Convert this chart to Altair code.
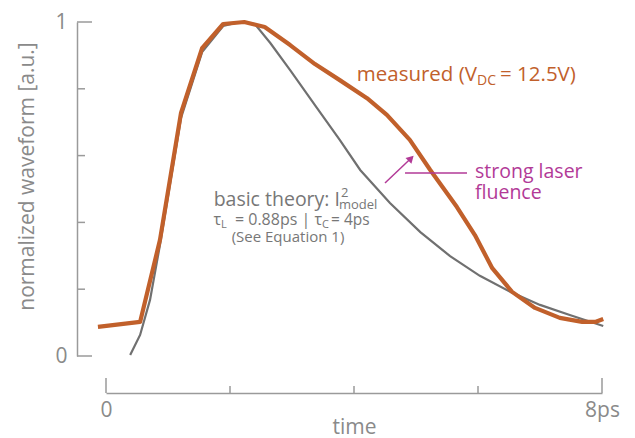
import altair as alt
import pandas as pd

# ---------------- data ----------------
meas_t = [-0.13, 0.55, 0.87, 1.21, 1.55, 1.89, 2.23, 2.56, 2.97, 3.37, 3.77, 4.21,
          4.53, 4.90, 5.23, 5.66, 5.95, 6.23, 6.55, 6.92, 7.32, 7.68, 7.89, 8.02]
meas_v = [0.087, 0.102, 0.347, 0.728, 0.922, 0.994, 1.0, 0.985, 0.931, 0.874, 0.826, 0.772,
          0.722, 0.647, 0.557, 0.446, 0.362, 0.263, 0.192, 0.144, 0.114, 0.102, 0.102, 0.111]

theo_t = [0.39, 0.55, 0.71, 0.87, 1.21, 1.55, 1.89, 2.16, 2.40, 2.65, 2.97, 3.37,
          3.77, 4.10, 4.58, 5.07, 5.55, 6.03, 6.52, 7.00, 7.48, 8.02]
theo_v = [0.003, 0.063, 0.168, 0.332, 0.713, 0.910, 0.988, 1.0, 0.994, 0.937, 0.856, 0.751,
          0.647, 0.557, 0.458, 0.371, 0.299, 0.240, 0.192, 0.153, 0.123, 0.090]

x_major = [0, 8]
x_minor = [2, 4, 6]
y_major = [0, 1]
y_minor = [0.2, 0.4, 0.6, 0.8]

x_title = "time"
y_title = "normalized waveform [a.u.]"

# annotation pieces: text, t, v
meas_main = [("measured (V", 5.984, 0.823)]
meas_sub = [("DC", 5.984, 0.811)]
meas_tail = [("= 12.5V)", 6.355, 0.823)]

laser_txt = [("strong laser", 5.952, 0.533), ("fluence", 5.952, 0.470)]
leader_t = [4.823, 5.823]
leader_v = [0.548, 0.548]
arrow_t = [4.50, 4.92]
arrow_v = [0.518, 0.592]

theory_main = [("basic theory: I", 3.774, 0.449)]
theory_sup = [("2", 3.79, 0.476)]
theory_sub = [("model", 3.758, 0.440)]
tau_right = [("τ", 1.855, 0.392), ("= 0.88ps | τ", 3.484, 0.392)]
tau_sub = [("L", 1.855, 0.383), ("C", 3.484, 0.383)]
tau_left = [("= 4ps", 3.63, 0.392)]
see_eq = [("(See Equation 1)", 2.935, 0.341)]

# ---------------- style ----------------
FONT = "Open Sans"
ORANGE = "#C1602B"
GREY_LINE = "#707070"
MAGENTA = "#B23A97"
AX = "#9a9a9a"
LAB = "#8a8a8a"
TXT = "#777777"
W, H = 496, 334

xs = alt.Scale(domain=[0, 8])
ys = alt.Scale(domain=[0, 1])

xaxis = alt.Axis(values=x_major, labelExpr="datum.value == 8 ? '8ps' : '0'", title=x_title,
                 offset=37, ticks=False, grid=False, domainColor=AX, domainWidth=1.5,
                 labelColor=LAB, labelFontSize=21, labelFont=FONT, labelPadding=6,
                 titleFont=FONT, titleFontSize=21, titleFontWeight="normal", titleColor=LAB,
                 titleX=248, titleY=40, titleBaseline="alphabetic", titleAlign="center",
                 labelFlush=False)
yaxis = alt.Axis(values=y_major, format="d", title=y_title, offset=29, ticks=False, grid=False,
                 domainColor=AX, domainWidth=1.5, labelColor=LAB, labelFontSize=21,
                 labelFont=FONT, labelPadding=10, titleFont=FONT, titleFontSize=21,
                 titleFontWeight="normal", titleColor=LAB, titleAngle=270,
                 titleX=-50, titleY=154, titleAlign="center", titleBaseline="middle")


def X(f):
    return alt.X(f, type="quantitative", scale=xs, axis=xaxis)


def Y(f):
    return alt.Y(f, type="quantitative", scale=ys, axis=yaxis)


def tdf(rows):
    return pd.DataFrame(rows, columns=["text", "t", "v"])


meas = pd.DataFrame({"t": meas_t, "v": meas_v})
theo = pd.DataFrame({"t": theo_t, "v": theo_v})

theo_line = alt.Chart(theo).mark_line(color=GREY_LINE, strokeWidth=2.2).encode(x=X("t"), y=Y("v"))
meas_line = alt.Chart(meas).mark_line(color=ORANGE, strokeWidth=4.2, strokeJoin="round").encode(x=X("t"), y=Y("v"))

ytm = alt.Chart(pd.DataFrame({"v": y_major})).mark_rule(color=AX, strokeWidth=1.5).encode(
    y=Y("v"), x=alt.value(-29), x2=alt.value(-14))
ytn = alt.Chart(pd.DataFrame({"v": y_minor})).mark_rule(color=AX, strokeWidth=1.5).encode(
    y=Y("v"), x=alt.value(-29), x2=alt.value(-21))
xtm = alt.Chart(pd.DataFrame({"t": x_major})).mark_rule(color=AX, strokeWidth=1.5).encode(
    x=X("t"), y=alt.value(371), y2=alt.value(356))
xtn = alt.Chart(pd.DataFrame({"t": x_minor})).mark_rule(color=AX, strokeWidth=1.5).encode(
    x=X("t"), y=alt.value(371), y2=alt.value(364))


def txt(rows, size, color, align):
    return alt.Chart(tdf(rows)).mark_text(font=FONT, fontSize=size, color=color, align=align,
                                          baseline="alphabetic").encode(x=X("t"), y=Y("v"), text="text:N")


leader = alt.Chart(pd.DataFrame({"t": leader_t, "v": leader_v})).mark_line(
    color=MAGENTA, strokeWidth=1.5).encode(x=X("t"), y=Y("v"))
arrow = alt.Chart(pd.DataFrame({"t": arrow_t, "v": arrow_v})).mark_line(
    color=MAGENTA, strokeWidth=1.5).encode(x=X("t"), y=Y("v"))
head = alt.Chart(pd.DataFrame({"t": arrow_t[-1:], "v": arrow_v[-1:]})).mark_point(
    shape="triangle-up", filled=True, color=MAGENTA, size=70, angle=45, opacity=1).encode(x=X("t"), y=Y("v"))

chart = alt.layer(
    ytm, ytn, xtm, xtn,
    theo_line, meas_line,
    txt(meas_main, 20.5, ORANGE, "right"),
    txt(meas_sub, 14, ORANGE, "left"),
    txt(meas_tail, 20.5, ORANGE, "left"),
    txt(laser_txt, 19.5, MAGENTA, "left"),
    leader, arrow, head,
    txt(theory_main, 19.5, TXT, "right"),
    txt(theory_sup, 13, TXT, "left"),
    txt(theory_sub, 13, TXT, "left"),
    txt(tau_right, 16, TXT, "right"),
    txt(tau_sub, 11, TXT, "left"),
    txt(tau_left, 15.5, TXT, "left"),
    txt(see_eq, 15, TXT, "center"),
).properties(
    width=W, height=H,
    autosize=alt.AutoSizeParams(type="none"),
    padding={"left": 98, "top": 14, "right": 25, "bottom": 84},
).configure_view(stroke=None)

chart.save("out.html", embed_options={"renderer": "svg", "actions": False})
